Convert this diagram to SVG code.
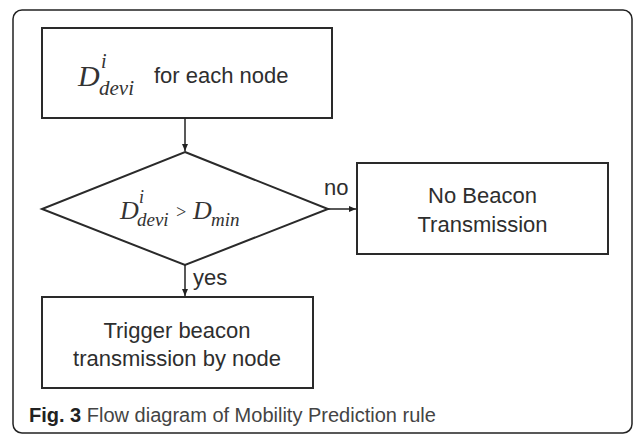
<svg xmlns="http://www.w3.org/2000/svg" width="634" height="434" viewBox="0 0 634 434">
<defs>
<marker id="arr" markerWidth="8" markerHeight="8" refX="7" refY="4" orient="auto" markerUnits="userSpaceOnUse">
<path d="M0,1 L7,4 L0,7 Z" fill="#222"/>
</marker>
</defs>
<style>
.box{fill:#fff;stroke:#2a2a2a;stroke-width:2}
.lbl{font-family:"Liberation Sans",Arial,sans-serif;font-size:22px;fill:#2e2e2e}
.math{font-family:"Liberation Serif","Times New Roman",serif;font-style:italic;fill:#333}
.conn{stroke:#222;stroke-width:1.5;fill:none}
.cap{font-family:"Liberation Sans",Arial,sans-serif;font-size:20px;fill:#444}
</style>
<rect x="13" y="10" width="619" height="423" rx="9" fill="#fff" stroke="#222" stroke-width="1.5"/>
<g id="start">
<rect class="box" x="42" y="28" width="290" height="90"/>
<text class="math" x="78" y="86" font-size="30">D</text>
<text class="math" x="101" y="68" font-size="20">i</text>
<text class="math" x="99" y="95" font-size="21">devi</text>
<text class="lbl" x="154" y="83" font-size="23">for each node</text>
</g>
<g id="decision">
<polygon class="box" points="185,152 328,209 185,265 42,209"/>
<text class="math" x="120" y="219" font-size="26">D</text>
<text class="math" x="139" y="203" font-size="18">i</text>
<text class="math" x="137" y="226" font-size="19">devi</text>
<text class="math" x="175" y="218" font-size="18" font-style="normal">&gt;</text>
<text class="math" x="193" y="219" font-size="26">D</text>
<text class="math" x="211" y="226" font-size="19">min</text>
</g>
<g id="nobeacon">
<rect class="box" x="357" y="163" width="251" height="91"/>
<text class="lbl" x="482.5" y="203" text-anchor="middle">No Beacon</text>
<text class="lbl" x="482.5" y="232" text-anchor="middle">Transmission</text>
</g>
<g id="trigger">
<rect class="box" x="42" y="297" width="271" height="91"/>
<text class="lbl" x="177" y="338" text-anchor="middle">Trigger beacon</text>
<text class="lbl" x="177" y="366" text-anchor="middle">transmission by node</text>
</g>
<g id="connectors">
<line class="conn" x1="185" y1="118" x2="185" y2="151" marker-end="url(#arr)"/>
<line class="conn" x1="328" y1="209" x2="356" y2="209" marker-end="url(#arr)"/>
<line class="conn" x1="185" y1="265" x2="185" y2="296" marker-end="url(#arr)"/>
<text class="lbl" x="324" y="195">no</text>
<text class="lbl" x="193" y="285">yes</text>
</g>
<text class="cap" x="29" y="422"><tspan font-weight="bold" fill="#222">Fig. 3</tspan> Flow diagram of Mobility Prediction rule</text>
</svg>
